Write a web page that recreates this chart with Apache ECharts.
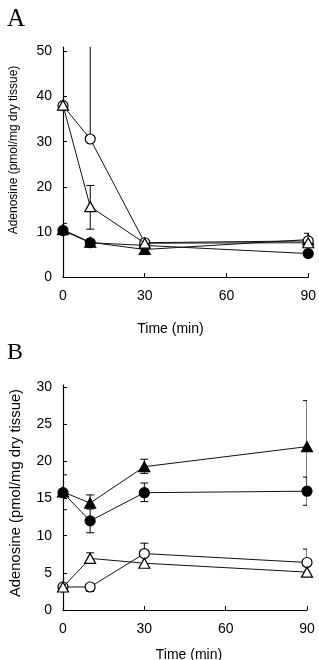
<!DOCTYPE html>
<html>
<head>
<meta charset="utf-8">
<script src="https://cdn.jsdelivr.net/npm/echarts@6/dist/echarts.min.js"></script>
<style>
html,body{margin:0;padding:0;background:#fff;}
#c{width:319px;height:660px;}
</style>
</head>
<body>
<div id="c"></div>
<script>
// ---- data ----
var times = [0, 10, 30, 90];
var xTicks = [0, 30, 60, 90];
var yTicksA = [0, 10, 20, 30, 40, 50];
var yTicksB = [0, 5, 10, 15, 20, 25, 30];

// Panel A
var A_filledCircle = [10.3, 7.6, 7.0, 5.2];
var A_filledCircle_up = [1.6, 0, 0, 0];
var A_filledCircle_down = [0, 0, 0, 0];
var A_filledTri = [10.5, 7.7, 6.1, 8.3];
var A_filledTri_up = [0, 0, 0, 1.4];
var A_filledTri_down = [0, 0, 0, 0];
var A_openCircle = [38.0, 30.6, 7.6, 8.0];
var A_openCircle_up = [0, 32, 0, 0];
var A_openCircle_down = [0, 0, 0, 0];
var A_openTri = [38.1, 15.6, 7.5, 7.6];
var A_openTri_up = [0, 4.7, 0, 0];
var A_openTri_down = [0, 5.0, 0, 0];

// Panel B
var B_filledCircle = [15.8, 12.0, 15.8, 16.0];
var B_filledCircle_up = [2.4, 1.6, 1.3, 1.9];
var B_filledCircle_down = [2.3, 1.6, 1.2, 1.9];
var B_filledTri = [15.9, 14.4, 19.3, 22.0];
var B_filledTri_up = [0, 1.1, 1.0, 6.2];
var B_filledTri_down = [0, 0, 0.9, 6.2];
var B_openCircle = [3.1, 3.1, 7.6, 6.4];
var B_openCircle_up = [0, 0, 1.4, 1.8];
var B_openCircle_down = [0, 0.6, 0, 0];
var B_openTri = [3.1, 6.95, 6.3, 5.1];
var B_openTri_up = [0, 0.75, 0, 0];
var B_openTri_down = [0, 0, 0, 0];

var yTitle = 'Adenosine (pmol/mg dry tissue)';
var xTitle = 'Time (min)';

// ---- build ----
function pts(v) { return times.map(function (t, i) { return [t, v[i]]; }); }
function errPts(v, up, down) { return times.map(function (t, i) { return [t, v[i], up[i], down[i]]; }); }

var FONT = '"Liberation Sans", Arial, sans-serif';

function lineSeries(idx, vals, symbol, filled, z) {
  return {
    type: 'line', xAxisIndex: idx, yAxisIndex: idx, data: pts(vals),
    symbol: symbol, symbolSize: symbol === 'circle' ? 10 : [11, 10],
    showAllSymbol: true, z: z, animation: false,
    lineStyle: { color: '#111', width: 1 },
    itemStyle: { color: filled ? '#000' : '#fff', borderColor: '#000', borderWidth: 1.2 },
    emphasis: { disabled: true }
  };
}
function errSeries(idx, vals, up, down) {
  return {
    type: 'custom', xAxisIndex: idx, yAxisIndex: idx, data: errPts(vals, up, down),
    encode: { x: 0, y: 1 }, clip: true, z: 1, animation: false, silent: true,
    renderItem: function (params, api) {
      var x = api.value(0), y = api.value(1), u = api.value(2), d = api.value(3);
      var children = [];
      var c = api.coord([x, y]);
      var st = { stroke: '#000', lineWidth: 1 };
      var hw = 4;
      if (u > 0) {
        var t = api.coord([x, y + u]);
        children.push({ type: 'line', shape: { x1: c[0], y1: c[1], x2: t[0], y2: t[1] }, style: st });
        children.push({ type: 'line', shape: { x1: t[0] - hw, y1: t[1], x2: t[0] + hw, y2: t[1] }, style: st });
      }
      if (d > 0) {
        var b = api.coord([x, y - d]);
        children.push({ type: 'line', shape: { x1: c[0], y1: c[1], x2: b[0], y2: b[1] }, style: st });
        children.push({ type: 'line', shape: { x1: b[0] - hw, y1: b[1], x2: b[0] + hw, y2: b[1] }, style: st });
      }
      return { type: 'group', children: children };
    }
  };
}
function xAxis(idx) {
  return {
    type: 'value', gridIndex: idx, min: 0, max: 90, interval: 30,
    axisLine: { lineStyle: { color: '#000', width: 1.2 } },
    axisTick: { inside: true, length: 4, lineStyle: { color: '#000' } },
    axisLabel: { color: '#000', fontSize: 14, fontFamily: FONT, margin: 12 },
    splitLine: { show: false }
  };
}
function yAxis(idx, max, ticks) {
  return {
    type: 'value', gridIndex: idx, min: 0, max: max,
    axisLine: { show: true, lineStyle: { color: '#000', width: 1.2 } },
    axisTick: { show: true, inside: true, length: 4, customValues: ticks, lineStyle: { color: '#000' } },
    axisLabel: { color: '#000', fontSize: 14, fontFamily: FONT, margin: 11, customValues: ticks },
    splitLine: { show: false }
  };
}
function txt(x, y, text, size, family, rot) {
  return {
    type: 'text', x: x, y: y, rotation: rot || 0, silent: true,
    style: { text: text, fontSize: size, fontFamily: family, fill: '#000', align: 'center', verticalAlign: 'middle' }
  };
}

var chart = echarts.init(document.getElementById('c'), null, { renderer: 'canvas' });
chart.setOption({
  animation: false,
  backgroundColor: '#fff',
  grid: [
    { left: 63, top: 47, width: 246, height: 230 },
    { left: 63, top: 385, width: 244, height: 225 }
  ],
  xAxis: [xAxis(0), xAxis(1)],
  yAxis: [yAxis(0, 51, yTicksA), yAxis(1, 30.3, yTicksB)],
  graphic: [
    txt(16, 19, 'A', 25, '"Liberation Serif", "Times New Roman", serif'),
    txt(15, 353, 'B', 24, '"Liberation Serif", "Times New Roman", serif'),
    txt(14, 150, yTitle, 12, FONT, Math.PI / 2),
    txt(16, 493, yTitle, 14.8, FONT, Math.PI / 2),
    txt(170.5, 329, xTitle, 14, FONT),
    txt(189, 655, xTitle, 14, FONT)
  ],
  series: [
    errSeries(0, A_filledTri, A_filledTri_up, A_filledTri_down),
    errSeries(0, A_filledCircle, A_filledCircle_up, A_filledCircle_down),
    errSeries(0, A_openCircle, A_openCircle_up, A_openCircle_down),
    errSeries(0, A_openTri, A_openTri_up, A_openTri_down),
    lineSeries(0, A_filledTri, 'triangle', true, 2),
    lineSeries(0, A_filledCircle, 'circle', true, 3),
    lineSeries(0, A_openCircle, 'circle', false, 4),
    lineSeries(0, A_openTri, 'triangle', false, 5),
    errSeries(1, B_filledTri, B_filledTri_up, B_filledTri_down),
    errSeries(1, B_filledCircle, B_filledCircle_up, B_filledCircle_down),
    errSeries(1, B_openCircle, B_openCircle_up, B_openCircle_down),
    errSeries(1, B_openTri, B_openTri_up, B_openTri_down),
    lineSeries(1, B_filledTri, 'triangle', true, 2),
    lineSeries(1, B_filledCircle, 'circle', true, 3),
    lineSeries(1, B_openCircle, 'circle', false, 4),
    lineSeries(1, B_openTri, 'triangle', false, 5)
  ]
});
</script>
</body>
</html>
